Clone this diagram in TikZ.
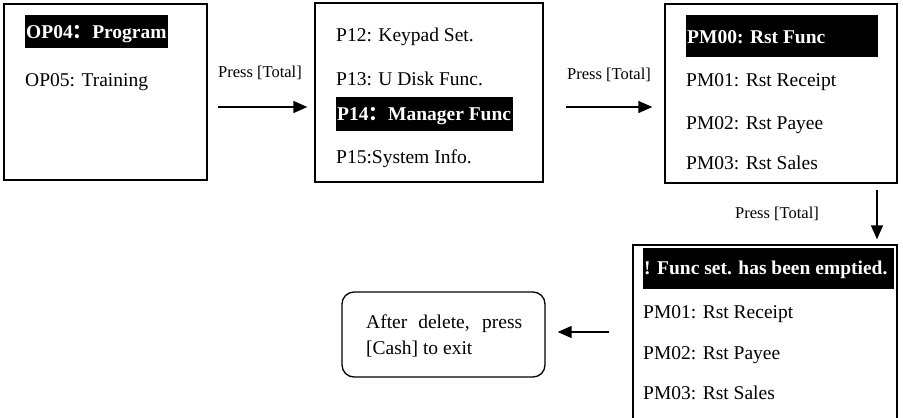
\documentclass[tikz,border=0pt]{standalone}
\usepackage{fontspec}
\setmainfont{Liberation Serif}
\newfontfamily\cjk{Noto Sans CJK SC}
\usetikzlibrary{arrows.meta}
\begin{document}
\begin{tikzpicture}[x=1pt,y=-1pt,
  box/.style={draw, line width=1.3pt, inner sep=0pt},
  hl/.style={fill=black, inner sep=0pt},
  mtxt/.style={anchor=base west, inner sep=0pt, font=\fontsize{19.5}{22}\selectfont},
  mbold/.style={anchor=base west, inner sep=0pt, text=white, font=\fontsize{19.5}{22}\selectfont\bfseries},
  lbl/.style={inner sep=0pt, font=\fontsize{16.5}{19}\selectfont},
  arr/.style={-{Triangle[length=14pt,width=12pt]}, line width=1.3pt}]
\useasboundingbox (0,0) rectangle (903,418);
% boxes
\node[box, minimum width=203pt, minimum height=176pt] (b1) at (105.5,92) {};
\node[box, minimum width=228pt, minimum height=179pt] (b2) at (429,92.5) {};
\node[box, minimum width=232pt, minimum height=179pt] (b3) at (781,93.5) {};
\node[box, minimum width=264pt, minimum height=195pt] (b4) at (765,342.5) {};
\node[box, rounded corners=12pt, minimum width=203pt, minimum height=85pt] (b5) at (443.5,334.5) {};
% highlights
\node[hl, minimum width=143pt, minimum height=33pt] (h1) at (96.5,31.5) {};
\node[hl, minimum width=177pt, minimum height=34pt] (h2) at (424.5,114) {};
\node[hl, minimum width=192pt, minimum height=42pt] (h3) at (782,36) {};
\node[hl, minimum width=251pt, minimum height=41pt] (h4) at (768.5,268.5) {};
% box 1 texts
\node[mbold] (t11) at (26,38) {OP04{\cjk ：}Program};
\node[mtxt] (t12) at (25,86) {OP05: Training};
% box 2 texts
\node[mtxt] (t21) at (336,41) {P12: Keypad Set.};
\node[mtxt] (t22) at (336,85) {P13: U Disk Func.};
\node[mbold] (t23) at (337,120) {P14{\cjk ：}Manager Func};
\node[mtxt] (t24) at (336,163) {P15:System Info.};
% box 3 texts
\node[mbold] (t31) at (687,43) {PM00: Rst Func};
\node[mtxt] (t32) at (686,86) {PM01: Rst Receipt};
\node[mtxt] (t33) at (686,129) {PM02: Rst Payee};
\node[mtxt] (t34) at (686,169) {PM03: Rst Sales};
% box 4 texts
\node[mbold] (t41) at (644,274) {! Func set. has been emptied.};
\node[mtxt] (t42) at (643,318) {PM01: Rst Receipt};
\node[mtxt] (t43) at (643,359) {PM02: Rst Payee};
\node[mtxt] (t44) at (643,399) {PM03: Rst Sales};
% rounded box texts
\node[mtxt] (t51) at (366,328) {\makebox[156pt][s]{After delete, press}};
\node[mtxt] (t52) at (366,354) {[Cash] to exit};
% labels
\node[lbl] (l1) at (260,73) {Press [Total]};
\node[lbl] (l2) at (609,75) {Press [Total]};
\node[lbl] (l3) at (777,214) {Press [Total]};
% connectors
\coordinate (row) at (0,107);
\coordinate (col) at (877,0);
\coordinate (row2) at (0,332);
\draw[arr, shorten <=10pt, shorten >=7pt] (b1.east |- row) -- (b2.west |- row);
\draw[arr, shorten <=22pt, shorten >=12pt] (b2.east |- row) -- (b3.west |- row);
\draw[arr, shorten <=6pt, shorten >=5pt] (b3.south -| col) -- (b4.north -| col);
\draw[arr, shorten <=23pt, shorten >=12pt] (b4.west |- row2) -- (b5.east |- row2);
\end{tikzpicture}
\end{document}
